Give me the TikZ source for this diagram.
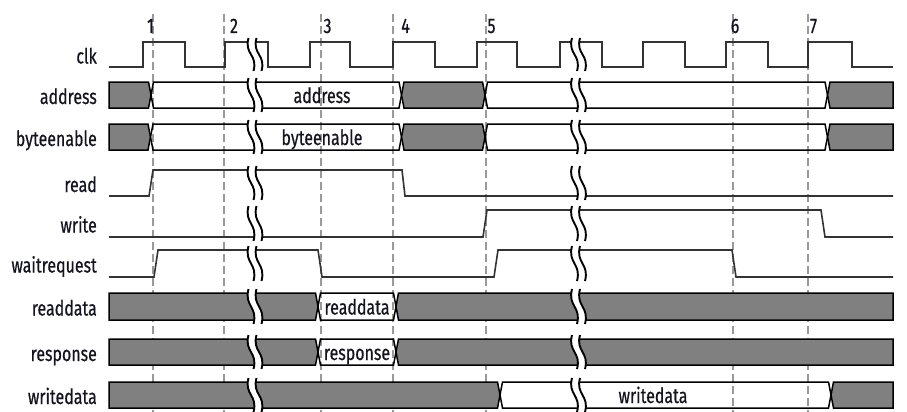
\documentclass[tikz,border=0pt]{standalone}
\usepackage{fontspec}
\setmainfont{Fira Sans}[FakeStretch=0.76,FakeBold=0.5]
\definecolor{busgray}{HTML}{808080}
\definecolor{txt}{HTML}{141420}
\newcommand{\busstart}[4]{\path[#4] (109,#2) -- ({#1-2.5},#2) -- (#1,{(#2+#3)/2}) -- ({#1-2.5},#3) -- (109,#3) -- cycle;}
\newcommand{\busmid}[5]{\path[#5] (#1,{(#3+#4)/2}) -- ({#1+2.5},#3) -- ({#2-2.5},#3) -- (#2,{(#3+#4)/2}) -- ({#2-2.5},#4) -- ({#1+2.5},#4) -- cycle;}
\newcommand{\busend}[4]{\path[#4] (#1,{(#2+#3)/2}) -- ({#1+2.5},#2) -- (893,#2) -- (893,#3) -- ({#1+2.5},#3) -- cycle;}
\newcommand{\brkmark}[3]{%
  \fill[white] ({#1+1},#2) .. controls ({#1-3.5},{(#2+#3)/2}) and ({#1+10.5},{(#2+#3)/2}) .. ({#1+6},#3)
     -- ({#1+14},#3) .. controls ({#1+18.5},{(#2+#3)/2}) and ({#1+4.5},{(#2+#3)/2}) .. ({#1+9},#2) -- cycle;
  \draw[brkline] ({#1+1},#2) .. controls ({#1-3.5},{(#2+#3)/2}) and ({#1+10.5},{(#2+#3)/2}) .. ({#1+6},#3);
  \draw[brkline] ({#1+9},#2) .. controls ({#1+4.5},{(#2+#3)/2}) and ({#1+18.5},{(#2+#3)/2}) .. ({#1+14},#3);}
\begin{document}
\begin{tikzpicture}[x=1pt,y=-1pt,font=\fontsize{21}{25}\selectfont,
  sig/.style={line width=1.6pt,draw=black!80},
  busg/.style={line width=1.5pt,draw=black,fill=busgray},
  busw/.style={line width=1.5pt,draw=black},
  vline/.style={draw=black!40,line width=1.1pt,dash pattern=on 8pt off 4pt},
  brkline/.style={line width=1.9pt,black},
  lbl/.style={anchor=base east,text=txt,inner sep=0pt},
  num/.style={anchor=base,text=txt,inner sep=0pt},
  bustxt/.style={anchor=base,text=txt,inner sep=0pt}]
\useasboundingbox (0,0) rectangle (907,412);
% dashed reference lines
\foreach \x/\n in {153/1,224/2,321/3,393/4,486/5,733/6,808/7}{
  \coordinate (vt\n) at (\x,14);
  \coordinate (vb\n) at (\x,412);
  \draw[vline] (vt\n) -- (vb\n);
}
% clock
\draw[sig] (109,67) -- (143,67) -- (143,42) -- (185,42) -- (185,67) -- (225,67) -- (225,42) -- (268,42) -- (268,67) -- (310,67) -- (310,42) -- (350,42) -- (350,67) -- (393,67) -- (393,42) -- (435,42) -- (435,67) -- (477,67) -- (477,42) -- (517,42) -- (517,67) -- (560,67) -- (560,42) -- (602,42) -- (602,67) -- (643,67) -- (643,42) -- (685,42) -- (685,67) -- (726,67) -- (726,42) -- (768,42) -- (768,67) -- (808,67) -- (808,42) -- (852,42) -- (852,67) -- (893,67);
% read
\draw[sig] (109,196) -- (149,196) -- (153,170) -- (402,170) -- (405,196) -- (893,196);
% write
\draw[sig] (109,237) -- (483,237) -- (487,210) -- (821,210) -- (825,237) -- (893,237);
% waitrequest
\draw[sig] (109,277) -- (154,277) -- (158,250) -- (318,250) -- (322,277) -- (494,277) -- (498,250) -- (732,250) -- (736,277) -- (893,277);
% address
\busstart{151}{82}{108}{busg}
\busmid{151}{401.5}{82}{108}{busw}
\busmid{401.5}{485}{82}{108}{busg}
\busmid{485}{827.5}{82}{108}{busw}
\busend{827.5}{82}{108}{busg}
% byteenable
\busstart{150.5}{124}{150}{busg}
\busmid{150.5}{401.5}{124}{150}{busw}
\busmid{401.5}{485}{124}{150}{busg}
\busmid{485}{827.5}{124}{150}{busw}
\busend{827.5}{124}{150}{busg}
% readdata
\busstart{318}{293}{320}{busg}
\busmid{318}{396}{293}{320}{busw}
\busend{396}{293}{320}{busg}
% response
\busstart{318}{339}{365}{busg}
\busmid{318}{396}{339}{365}{busw}
\busend{396}{339}{365}{busg}
% writedata
\busstart{500}{382}{408}{busg}
\busmid{500}{831}{382}{408}{busw}
\busend{831}{382}{408}{busg}
% break marks
\foreach \bx in {247.5,571}{
  \brkmark{\bx}{38}{71}
  \brkmark{\bx}{78}{112}
  \brkmark{\bx}{120}{154}
  \brkmark{\bx}{166}{200}
  \brkmark{\bx}{206}{241}
  \brkmark{\bx}{246}{281}
  \brkmark{\bx}{289}{324}
  \brkmark{\bx}{335}{369}
  \brkmark{\bx}{378}{412}
}
% signal labels
\node[lbl] (lclk) at (97,63.5) {clk};
\node[lbl] (laddr) at (97,104) {address};
\node[lbl] (lbe) at (97,146) {byteenable};
\node[lbl] (lrd) at (97,192) {read};
\node[lbl] (lwr) at (97,232.5) {write};
\node[lbl] (lwait) at (97,272.5) {waitrequest};
\node[lbl] (lrdd) at (97,315.5) {readdata};
\node[lbl] (lresp) at (97,361) {response};
\node[lbl] (lwrd) at (97,404) {writedata};
% bus texts
\node[bustxt] (taddr) at (322,103) {address};
\node[bustxt] (tbe) at (322,145) {byteenable};
\node[bustxt] (trdd) at (357,314.5) {readdata};
\node[bustxt] (tresp) at (357,360) {response};
\node[bustxt] (twrd) at (653,403) {writedata};
% cycle numbers
\node[num] (n1) at (150.5,33) {1};
\node[num] (n2) at (234,33) {2};
\node[num] (n3) at (327.5,33) {3};
\node[num] (n4) at (405.5,33) {4};
\node[num] (n5) at (491.5,33) {5};
\node[num] (n6) at (735,33) {6};
\node[num] (n7) at (813.5,33) {7};
\end{tikzpicture}
\end{document}
